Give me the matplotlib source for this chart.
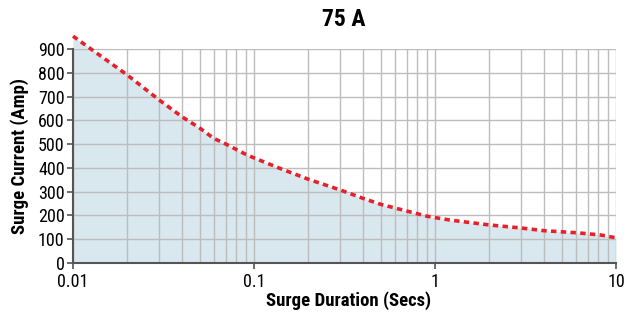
import matplotlib
matplotlib.use("Agg")
import matplotlib.pyplot as plt
from matplotlib import font_manager

names = {f.name for f in font_manager.fontManager.ttflist}
fam = "Roboto Condensed" if "Roboto Condensed" in names else "DejaVu Sans"
plt.rcParams['font.family'] = [fam, 'DejaVu Sans']

duration = [0.01, 0.02, 0.03, 0.04, 0.05, 0.06, 0.07, 0.09, 0.1, 0.14, 0.2, 0.3, 0.4, 0.5, 0.64, 0.9, 1.0, 1.2, 2.0, 3.0, 4.0, 6.1, 8.2, 10.0]
current = [954, 790, 685, 615, 568, 524, 500, 457, 442, 397, 352, 307, 272, 247, 226, 197, 191, 181, 160, 147, 136, 127, 118, 106]
yticks = [0, 100, 200, 300, 400, 500, 600, 700, 800, 900]
xticks = [0.01, 0.1, 1, 10]
xticklabels = ["0.01", "0.1", "1", "10"]

fig = plt.figure(figsize=(6.37, 3.16), dpi=100)
ax = fig.add_axes([73/637, 1-263/316, (616-73)/637, (263-49)/316])
ax.set_xscale('log')
ax.set_xlim(0.01, 10)
ax.set_ylim(0, 900)

ax.fill_between(duration, current, 0, color='#d9e7ee', zorder=1, clip_on=False, linewidth=0)
ax.plot(duration, current, color='#e8202a', lw=2.6, linestyle=(0, (1.5, 1.2)), zorder=3, clip_on=False)

ax.set_xticks(xticks)
ax.set_xticklabels(xticklabels)
ax.set_yticks(yticks)
ax.grid(True, which='both', color='#bdbdbd', lw=1.0, zorder=2)
ax.set_axisbelow(False)
for s in ['top', 'right']:
    ax.spines[s].set_visible(False)
for s in ['left', 'bottom']:
    ax.spines[s].set_color('#555555')
    ax.spines[s].set_linewidth(1.5)
    ax.spines[s].set_zorder(4)
ax.tick_params(axis='both', which='major', labelsize=13, length=4, width=1.2, color='#555555', direction='out', pad=2)
ax.tick_params(axis='x', which='minor', length=0)
ax.tick_params(axis='x', which='major', pad=3)

fig.text(344/637, 1-20/316, "75 A", ha='center', va='center', fontsize=17, fontweight='bold')
fig.text(349/637, 1-301/316, "Surge Duration (Secs)", ha='center', va='center', fontsize=13.5, fontweight='bold')
fig.text(20/637, 1-156/316, "Surge Current (Amp)", ha='center', va='center', fontsize=13.5, fontweight='bold', rotation=90)

fig.savefig("out.png", dpi=100)
